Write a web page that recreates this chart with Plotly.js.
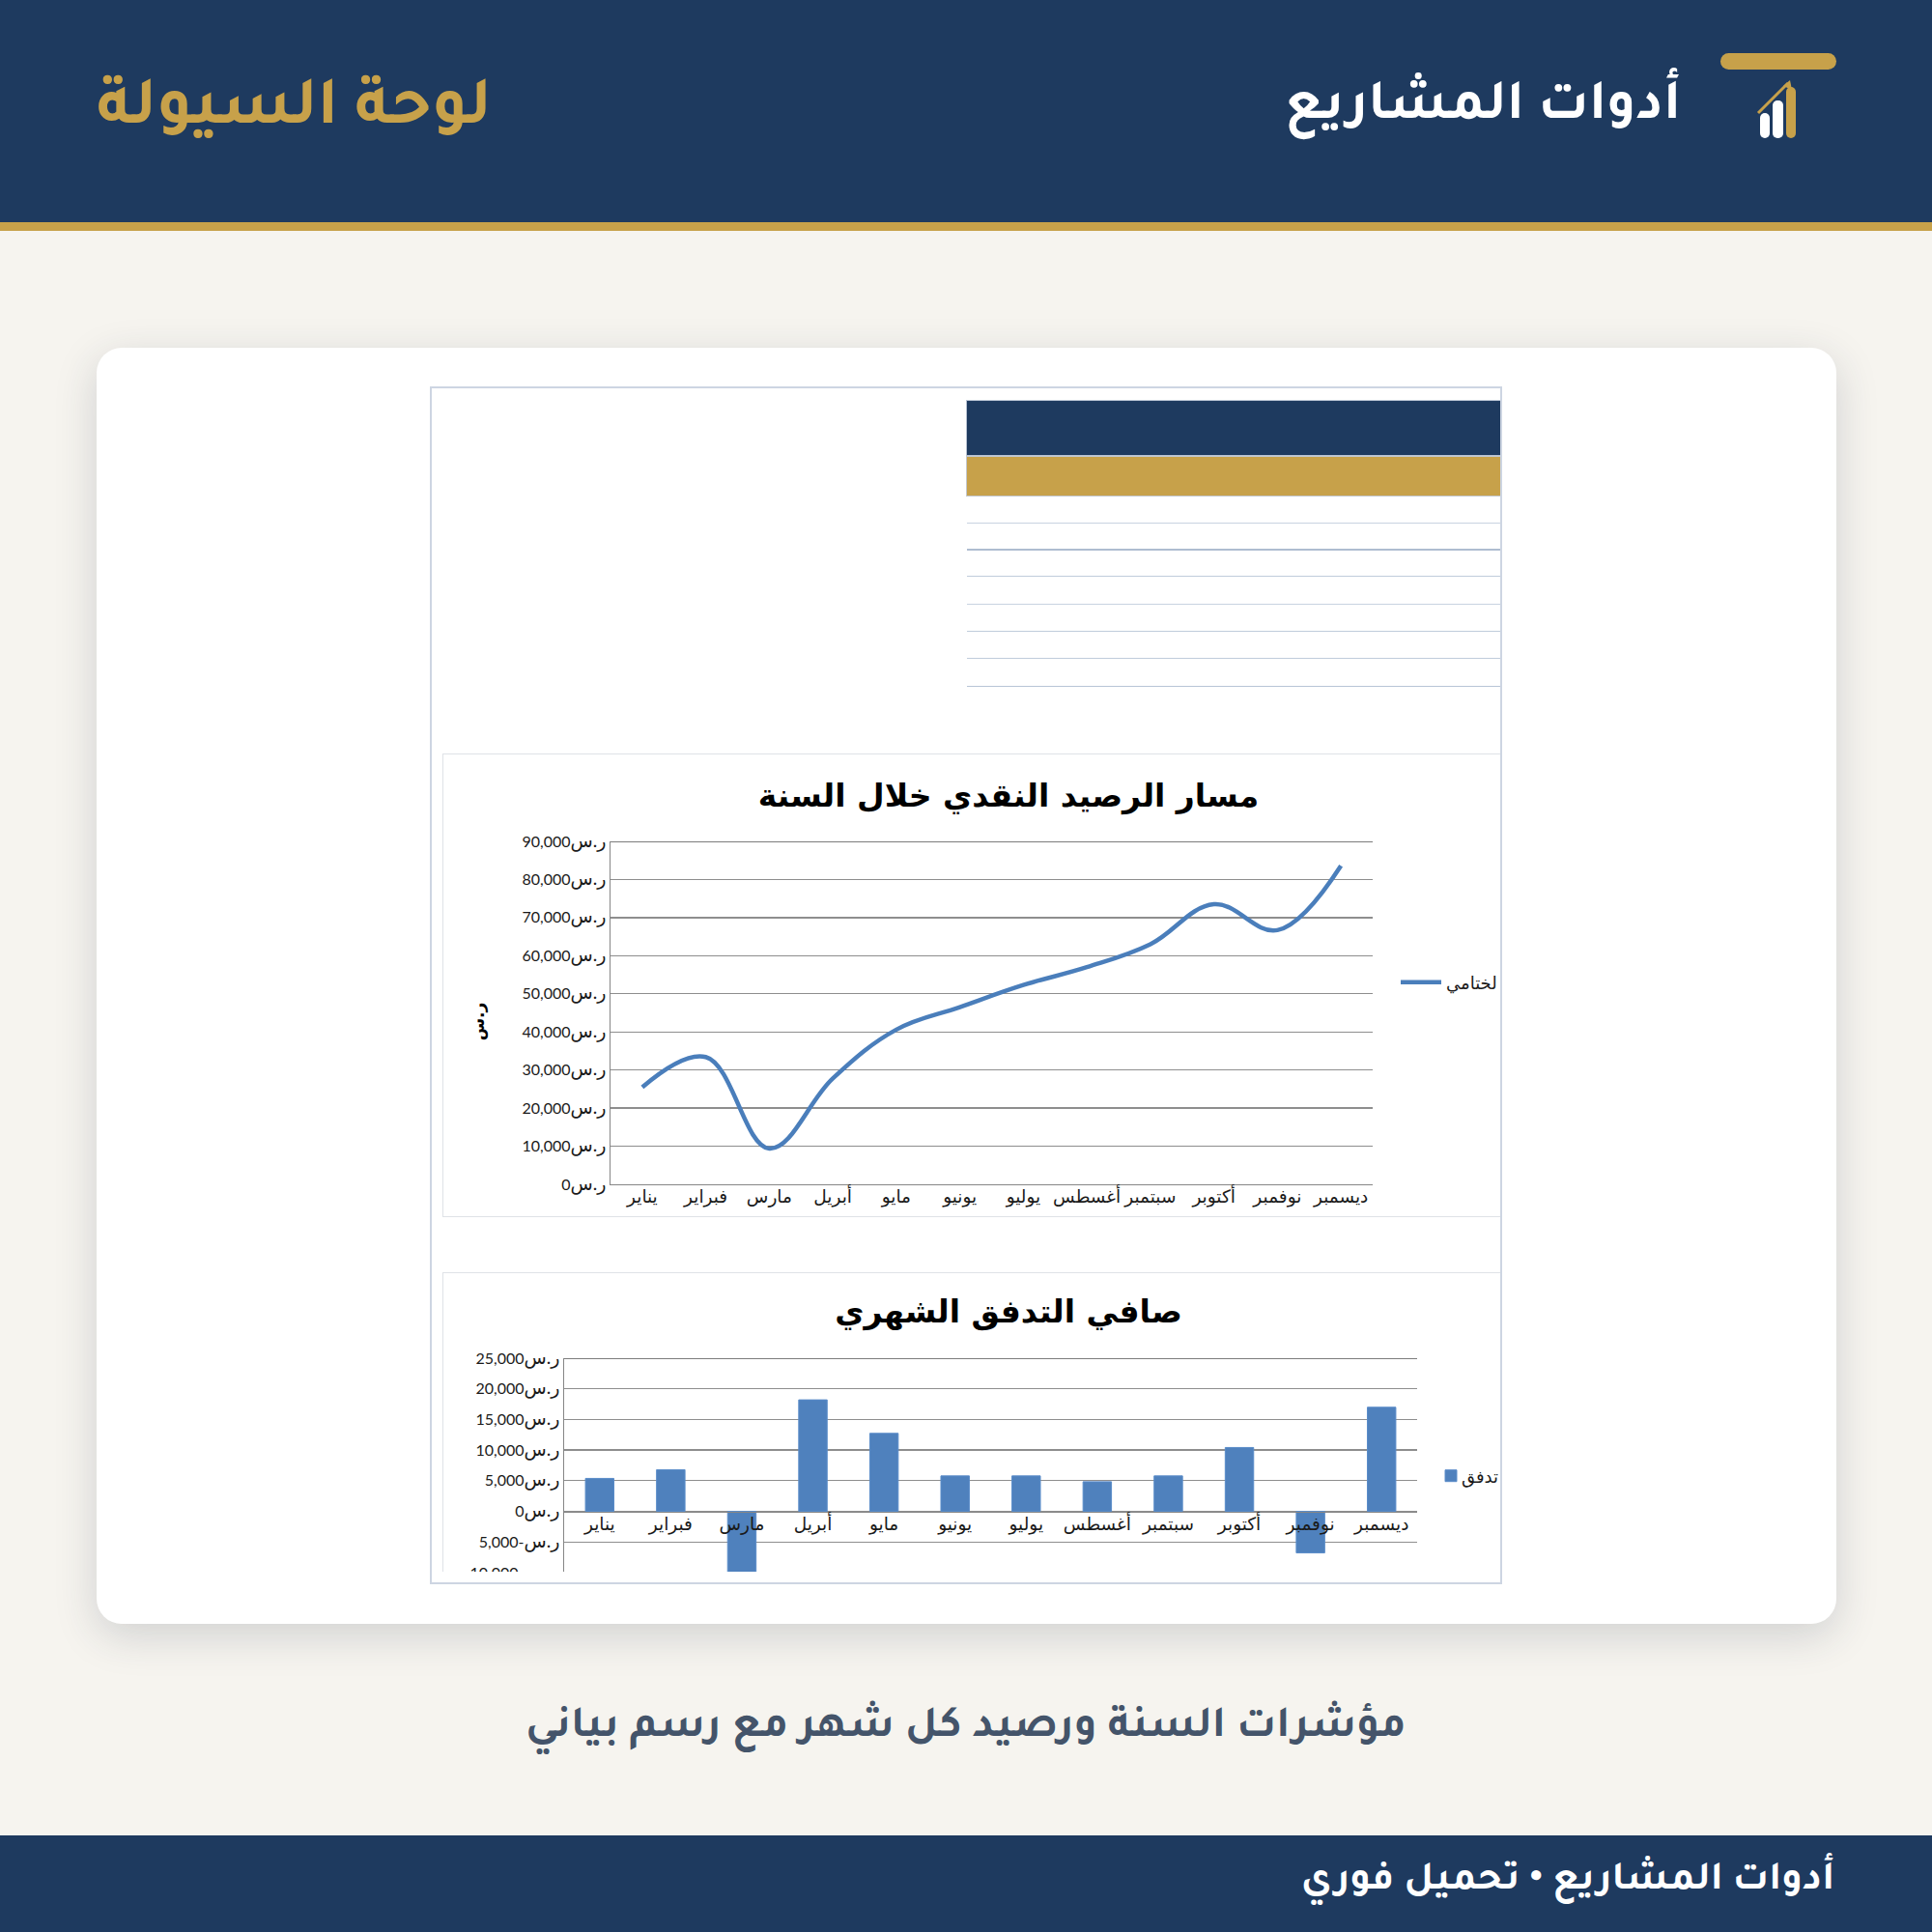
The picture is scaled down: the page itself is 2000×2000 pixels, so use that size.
<!DOCTYPE html>
<html lang="ar">
<head>
<meta charset="utf-8">
<script src="https://cdn.plot.ly/plotly-3.0.1.min.js"></script>
<style>
html,body{margin:0;padding:0;width:2000px;height:2000px;background:#f6f4ef;overflow:hidden}
.abs{position:absolute}
.txt{font-family:"Tajawal","DejaVu Sans",sans-serif;font-weight:700;white-space:nowrap;line-height:1}
</style>
</head>
<body>
<div class="abs" style="left:0;top:0;width:2000px;height:230px;background:#1e3a5f"></div>
<div class="abs" style="left:0;top:230px;width:2000px;height:9px;background:#c7a14a"></div>
<svg class="abs" style="left:1770px;top:45px" width="140" height="110" viewBox="1770 45 140 110">
  <rect x="1781" y="55" width="120" height="17" rx="8.5" fill="#c7a14a"/>
  <rect x="1822" y="117" width="10" height="26" rx="5" fill="#fff"/>
  <rect x="1835" y="104" width="11" height="39" rx="5" fill="#fff"/>
  <rect x="1849" y="90" width="10" height="53" rx="5" fill="#c7a14a"/>
  <path d="M1820 117L1851 86" stroke="#c7a14a" stroke-width="3" fill="none"/>
  <path d="M1846 89L1853 83L1855 93Z" fill="#c7a14a"/>
</svg>
<div class="abs txt" id="h1" dir="rtl" style="right:260px;top:84px;font-size:59px;color:#fff">أدوات المشاريع</div>
<div class="abs txt" id="h2" dir="rtl" style="left:100px;top:81px;font-size:71px;color:#c7a14a">لوحة السيولة</div>

<div class="abs" style="left:100px;top:360px;width:1801px;height:1321px;background:#fff;border-radius:26px;box-shadow:0 12px 44px rgba(40,50,70,.18)"></div>
<div class="abs" style="left:445px;top:400px;width:1106px;height:1236px;border:2px solid #cdd5e2;background:#fff"></div>

<div class="abs" style="left:1000px;top:414px;width:553px;height:58px;background:#1e3a5f;border:1px solid #b9c3d3;border-right:0;box-sizing:border-box"></div>
<div class="abs" style="left:1000px;top:472px;width:553px;height:42px;background:#c7a14a;border:1px solid #c3c8cf;border-right:0;box-sizing:border-box"></div>
<div class="abs" style="left:1001px;top:541px;width:552px;height:1px;background:#c8d3e0"></div>
<div class="abs" style="left:1001px;top:568px;width:552px;height:2px;background:#aebdd0"></div>
<div class="abs" style="left:1001px;top:596px;width:552px;height:1px;background:#c0ccdb"></div>
<div class="abs" style="left:1001px;top:625px;width:552px;height:1px;background:#c8d3e0"></div>
<div class="abs" style="left:1001px;top:653px;width:552px;height:1px;background:#c0ccdb"></div>
<div class="abs" style="left:1001px;top:681px;width:552px;height:1px;background:#c0ccdb"></div>
<div class="abs" style="left:1001px;top:710px;width:552px;height:1px;background:#b8c5d6"></div>

<div class="abs" style="left:458px;top:780px;width:1095px;height:480px;border:1px solid #dfe2e7;border-right:0;box-sizing:border-box;overflow:hidden">
  <div id="chart1" style="position:absolute;left:-1px;top:-1px;width:1095px;height:480px"></div>
</div>
<div class="abs" style="left:458px;top:1317px;width:1095px;height:310px;border:1px solid #dfe2e7;border-right:0;border-bottom:0;box-sizing:border-box;overflow:hidden">
  <div id="chart2" style="position:absolute;left:-1px;top:-1px;width:1095px;height:426px"></div>
</div>

<div class="abs txt" dir="rtl" style="left:0;width:2000px;text-align:center;top:1767px;font-size:46px;color:#44546a">مؤشرات السنة ورصيد كل شهر مع رسم بياني</div>
<div class="abs" style="left:0;top:1900px;width:2000px;height:100px;background:#1e3a5f"></div>
<div class="abs txt" dir="rtl" style="right:101px;top:1928px;font-size:42px;color:#fff">أدوات المشاريع • تحميل فوري</div>

<script>
const months = ['يناير','فبراير','مارس','أبريل','مايو','يونيو','يوليو','أغسطس','سبتمبر','أكتوبر','نوفمبر','ديسمبر'];
const closingBalance = [25500,33400,9400,27800,40600,46500,52300,57000,63000,73500,66700,83600];
const netFlow = [5370,6790,-23000,18200,12730,5780,5780,4830,5780,10420,-6790,16990];
const balanceTickVals = [0,10000,20000,30000,40000,50000,60000,70000,80000,90000];
const balanceTickText = ['ر.س0','ر.س10,000','ر.س20,000','ر.س30,000','ر.س40,000','ر.س50,000','ر.س60,000','ر.س70,000','ر.س80,000','ر.س90,000'];
const flowTickVals = [-10000,-5000,0,5000,10000,15000,20000,25000];
const flowTickText = ['ر.س-10,000','ر.س-5,000','ر.س0','ر.س5,000','ر.س10,000','ر.س15,000','ر.س20,000','ر.س25,000'];
const lineTitle = 'مسار الرصيد النقدي خلال السنة';
const barTitle = 'صافي التدفق الشهري';
const lineLegend = 'لختامي';
const barLegend = 'تدفق';
const yAxisTitle = 'ر.س';

const BLUE='#4a7ebb', BAR='#4f81bd', GRID='#8e8e8e', AXIS='#868686';
const yTickFont={family:'Lato, "DejaVu Sans", sans-serif',size:16,color:'#1a1a1a'};
const xTickFont={family:'"DejaVu Sans", sans-serif',size:16,color:'#1a1a1a'};
const titleFont={family:'"DejaVu Sans", sans-serif',size:33,color:'#000',weight:700};
const wrapTick = t => t.replace('ر.س','<span style="font-size:19px">ر.س</span>');
const topLine = v => ({type:'line',xref:'paper',x0:0,x1:1,yref:'y',y0:v,y1:v,line:{color:'#7c7c7c',width:2},layer:'below'});

Plotly.newPlot('chart1',[{
  type:'scatter',mode:'lines',x:months,y:closingBalance,name:lineLegend,
  line:{color:BLUE,width:4.5,shape:'spline',smoothing:1.1},cliponaxis:false
}],{
  width:1095,height:480,autosize:false,
  margin:{l:174,r:132,t:91,b:34,pad:0},
  paper_bgcolor:'#fff',plot_bgcolor:'#fff',
  title:{text:lineTitle,font:titleFont,x:(1044-458)/1095,xanchor:'center',xref:'container',y:1-(43/480),yanchor:'middle',yref:'container'},
  xaxis:{type:'category',range:[-0.5,11.5],showgrid:false,showline:true,linecolor:AXIS,linewidth:1.4,ticks:'',tickfont:{...xTickFont,size:18.5},tickangle:0,ticklabelstandoff:-5,fixedrange:true},
  yaxis:{range:[0,90000],tickmode:'array',tickvals:balanceTickVals,ticktext:balanceTickText.map(wrapTick),showgrid:true,gridcolor:GRID,gridwidth:1.3,showline:true,linecolor:AXIS,linewidth:1.4,zeroline:false,ticks:'',tickfont:yTickFont,
    title:{text:yAxisTitle,font:{family:'"DejaVu Sans", sans-serif',size:17,color:'#000',weight:700},standoff:34},fixedrange:true},
  shapes:[topLine(90000)],
  showlegend:true,
  legend:{xref:'container',yref:'container',x:(1445-458)/1095,xanchor:'left',y:1-(237/480),yanchor:'middle',font:{...xTickFont,size:18},itemwidth:42,bgcolor:'rgba(0,0,0,0)',borderwidth:0}
},{staticPlot:true,displayModeBar:false}).then(gd=>{
  const g=gd.querySelector('.g-ytitle'); if(g) g.setAttribute('transform','translate(0,9)');
});

Plotly.newPlot('chart2',[{
  type:'bar',x:months,y:netFlow,name:barLegend,
  marker:{color:BAR,line:{color:'#5a8cc9',width:1}}
}],{
  width:1095,height:426,autosize:false,
  margin:{l:126,r:86,t:89,b:20.3,pad:0},
  bargap:0.6,
  paper_bgcolor:'#fff',plot_bgcolor:'#fff',
  title:{text:barTitle,font:titleFont,x:(1044-458)/1095,xanchor:'center',xref:'container',y:1-(40/426),yanchor:'middle',yref:'container'},
  xaxis:{type:'category',range:[-0.5,11.5],showgrid:false,showline:true,linecolor:AXIS,linewidth:1.4,ticks:'',tickfont:{...xTickFont,size:18.5},tickangle:0,ticklabelstandoff:-4,anchor:'free',position:0.5,fixedrange:true},
  yaxis:{range:[-25000,25000],tickmode:'array',tickvals:flowTickVals,ticktext:flowTickText.map(wrapTick),showgrid:true,gridcolor:GRID,gridwidth:1.3,showline:true,linecolor:AXIS,linewidth:1.4,zeroline:false,ticks:'',tickfont:yTickFont,fixedrange:true},
  shapes:[topLine(25000)],
  showlegend:true,
  legend:{xref:'container',yref:'container',x:(1482-458)/1095,xanchor:'left',y:1-(211/426),yanchor:'middle',font:{...xTickFont,size:18},itemwidth:30,bgcolor:'rgba(0,0,0,0)',borderwidth:0}
},{staticPlot:true,displayModeBar:false}).then(gd=>{
  const t=gd.querySelector('.legendtext'); if(t) t.setAttribute('x',parseFloat(t.getAttribute('x'))-9);
});
</script>
</body>
</html>
